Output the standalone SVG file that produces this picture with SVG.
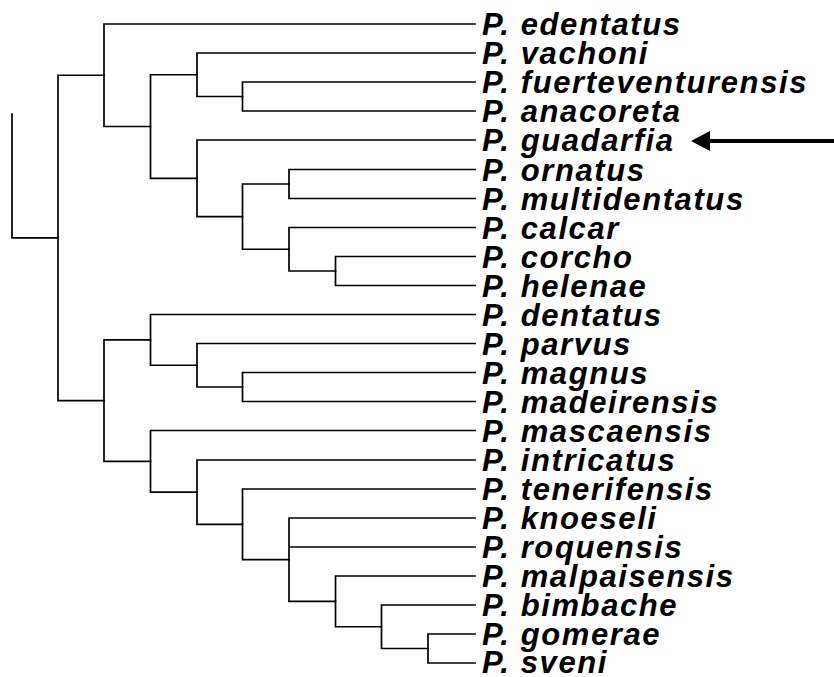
<svg xmlns="http://www.w3.org/2000/svg" width="834" height="677" viewBox="0 0 834 677">
<defs>
<style>
.br{fill:none;stroke:#000;stroke-width:1.7;stroke-linejoin:miter;stroke-linecap:square}
.lb{font-family:"Liberation Sans",Arial,sans-serif;font-weight:bold;font-style:italic;font-size:31px;letter-spacing:1.6px;fill:#000}
</style>
<marker id="ah" markerUnits="userSpaceOnUse" markerWidth="20" markerHeight="22" refX="0" refY="10" orient="auto">
<path d="M0,0 L19,10 L0,20 Z" fill="#000"/>
</marker>
</defs>
<rect width="834" height="677" fill="#fff"/>
<g id="connectors">
<path class="br" d="M12 114 V237.9 H58"/>
<path class="br" d="M104 75.25 H58 V400.6 H104"/>
<path class="br" d="M475 24 H104 V126.5 H150.5"/>
<path class="br" d="M197 74.75 H150.5 V178.3 H197"/>
<path class="br" d="M475 53 H197 V96.5 H242.5"/>
<path class="br" d="M475 82 H242.5 V111 H475"/>
<path class="br" d="M475 140 H197 V216.6 H242.5"/>
<path class="br" d="M289 184 H242.5 V249.25 H289"/>
<path class="br" d="M475 169.5 H289 V198.5 H475"/>
<path class="br" d="M475 227.5 H289 V271 H335.5"/>
<path class="br" d="M475 256.5 H335.5 V285.5 H475"/>
<path class="br" d="M150.5 339.9 H104 V461.3 H150.5"/>
<path class="br" d="M475 314.5 H150.5 V365.25 H197"/>
<path class="br" d="M475 343.5 H197 V387 H242.5"/>
<path class="br" d="M475 372.5 H242.5 V401.5 H475"/>
<path class="br" d="M475 430.5 H150.5 V492.2 H197"/>
<path class="br" d="M475 460 H197 V524.35 H242.5"/>
<path class="br" d="M475 489 H242.5 V559.7 H289"/>
<path class="br" d="M475 518 H289 V601.4 H335.5 M289 547 H475"/>
<path class="br" d="M475 576 H335.5 V626.75 H381.5"/>
<path class="br" d="M475 605 H381.5 V648.5 H428"/>
<path class="br" d="M475 634 H428 V663 H475"/>
<line x1="834" y1="141" x2="710" y2="141" stroke="#000" stroke-width="4" marker-end="url(#ah)"/>
</g>
<g id="edentatus"><text class="lb" x="482" y="35">P. edentatus</text></g>
<g id="vachoni"><text class="lb" x="482" y="64">P. vachoni</text></g>
<g id="fuerteventurensis"><text class="lb" x="482" y="93">P. fuerteventurensis</text></g>
<g id="anacoreta"><text class="lb" x="482" y="122">P. anacoreta</text></g>
<g id="guadarfia"><text class="lb" x="482" y="151">P. guadarfia</text></g>
<g id="ornatus"><text class="lb" x="482" y="180.5">P. ornatus</text></g>
<g id="multidentatus"><text class="lb" x="482" y="209.5">P. multidentatus</text></g>
<g id="calcar"><text class="lb" x="482" y="238.5">P. calcar</text></g>
<g id="corcho"><text class="lb" x="482" y="267.5">P. corcho</text></g>
<g id="helenae"><text class="lb" x="482" y="296.5">P. helenae</text></g>
<g id="dentatus"><text class="lb" x="482" y="325.5">P. dentatus</text></g>
<g id="parvus"><text class="lb" x="482" y="354.5">P. parvus</text></g>
<g id="magnus"><text class="lb" x="482" y="383.5">P. magnus</text></g>
<g id="madeirensis"><text class="lb" x="482" y="412.5">P. madeirensis</text></g>
<g id="mascaensis"><text class="lb" x="482" y="441.5">P. mascaensis</text></g>
<g id="intricatus"><text class="lb" x="482" y="471">P. intricatus</text></g>
<g id="tenerifensis"><text class="lb" x="482" y="500">P. tenerifensis</text></g>
<g id="knoeseli"><text class="lb" x="482" y="529">P. knoeseli</text></g>
<g id="roquensis"><text class="lb" x="482" y="558">P. roquensis</text></g>
<g id="malpaisensis"><text class="lb" x="482" y="587">P. malpaisensis</text></g>
<g id="bimbache"><text class="lb" x="482" y="616">P. bimbache</text></g>
<g id="gomerae"><text class="lb" x="482" y="645">P. gomerae</text></g>
<g id="sveni"><text class="lb" x="482" y="673">P. sveni</text></g>
</svg>
